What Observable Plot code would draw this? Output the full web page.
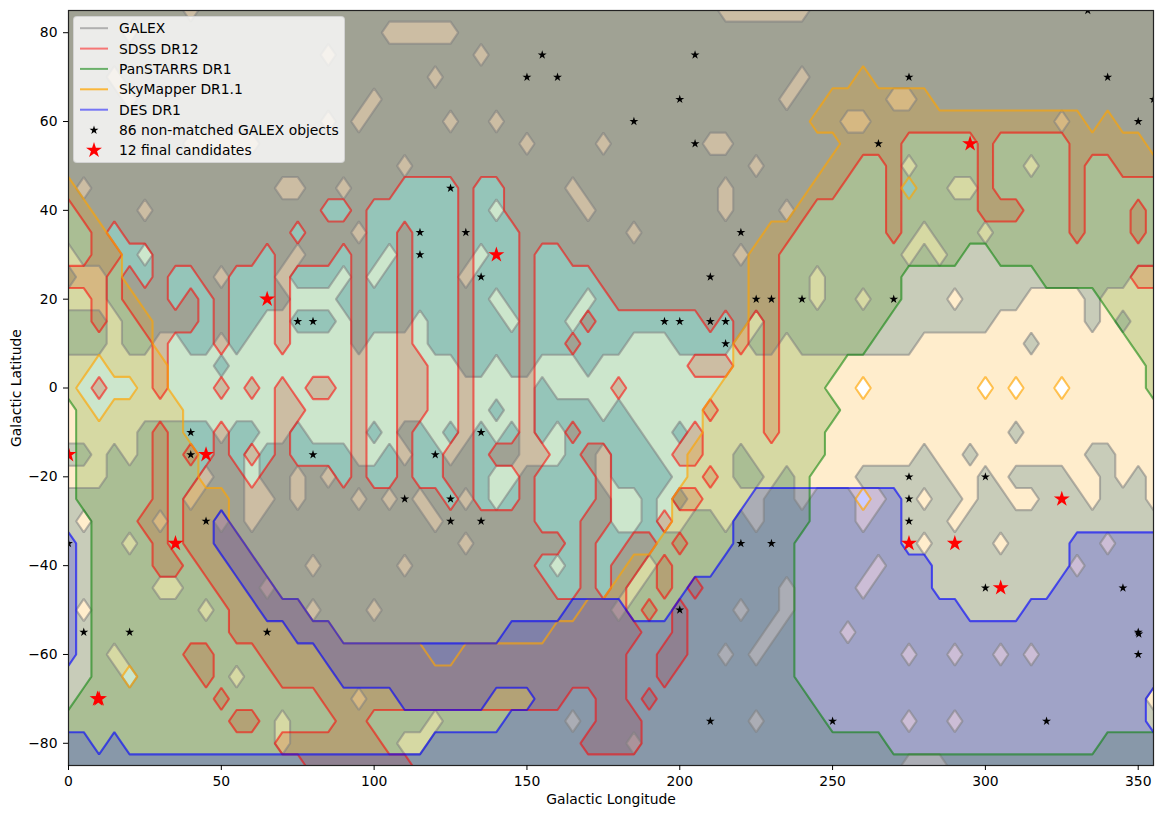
<!DOCTYPE html>
<html>
<head>
<meta charset="utf-8">
<script src="https://cdn.jsdelivr.net/npm/d3@7"></script>
<script src="https://cdn.jsdelivr.net/npm/@observablehq/plot@0.6"></script>
<style>
html,body{margin:0;padding:0;background:#fff;font-family:"DejaVu Sans",sans-serif}
#wrap{position:relative;width:1163px;height:817px;overflow:hidden}
#legend{position:absolute;left:73px;top:16px;width:272px;height:147px;box-sizing:border-box;background:rgba(255,255,255,.8);border:1px solid rgba(204,204,204,.8);border-radius:4px;font-size:13.9px;color:#000}
#legend svg{position:absolute;left:0;top:0}
#legend span{position:absolute;left:45px;white-space:nowrap;line-height:16px}
</style>
</head>
<body>
<div id="wrap"><div id="chart"></div><div id="legend"></div></div>
<script>
const galexHoles = {
  85:"40 215-240", 80:"20 105-125", 75:"85 135", 70:"15 120 240", 65:"20 100 235 270-275",
  60:"85 95 125 140 255-260 325", 55:"40-60 150 175 210-215", 50:"110 225 275 315",
  45:"5 70-75 90 165 215 290-295", 40:"25 140 170 215 235", 35:"95 185 280 300",
  30:"0 25 75 105 135 220 275 285", 25:"5-10 50 70 90 100 130 245 350-355",
  20:"0-10 75-85 140 170 245 260 290 315-330 340-355",
  15:"15 65-70 90 115 145 165 225 305-330 340 350-355",
  10:"15 30-35 50 60-90 100-115 185-195 220 235 280-310 320-355",
  5:"0-45 55-125 140 155-165 175-355",
  0:"0-150 160-355",
  [-5]:"0-135 145-150 175 185-355",
  [-10]:"0-20 50 65-70 80-95 105 120 130 140 150 160 190-195 205-305 315-355",
  [-15]:"10 20 60 95-100 110 125 150-160 175 195-215 225-275 285-290 300-330 345-355",
  [-20]:"0-10 45 60 75 85 140-145 175 200-215 230 240-255 290-295 305 330-335 345 355",
  [-25]:"40 60-65 75 95 105 115 130 140 180-185 195 205-225 240 260-265 280 295 310-315 335 355",
  [-30]:"5 30 50 60 120 180-185 195-200 215 225 260 290",
  [-35]:"20 130 280 305 340", [-40]:"80 110 160 190 265 330",
  [-45]:"30-35 65 185 235 260", [-50]:"5 45 80 100 180 220 235",
  [-55]:"230 255", [-60]:"15 215 225 275 290 305 315", [-65]:"20 55", [-70]:"95 355",
  [-75]:"70 120 165 225 275 290", [-80]:"70 110-115 185", [-85]:"275-285"
};
const sdssRuns = {
  85:"0-355", 80:"0-355", 75:"0-355", 70:"0-355", 65:"0-355", 60:"0-355",
  55:"0-270 300 330-355", 50:"0-255 270 300 330 345-355", 45:"0-105 130 145-250 270 300 330",
  40:"5-80 95 130 145-240 270 300-310 330 350", 35:"10 20-70 80-95 110 130 150-235 270 330 350",
  30:"10-15 30-60 70-85 95 110 130 150 165-230", 25:"0-10 20 30 45-50 70 95 110 130 150 175-230 350-355",
  20:"10 20-30 40 50 70 95 110 130 150 180-230", 15:"10 25-40 50 70 95 110 130 150 170 210 220 230",
  10:"30 50 70 95 110 130 150 165 220 230", 5:"30 95 110-115 130 150 205-215 230",
  0:"10 30 50 60 70 80-85 95 110-115 130 150 180 230", [-5]:"70-75 95 110-115 130 150 210 230",
  [-10]:"30 50 70 95 110 130 150 165 205 230",
  [-15]:"30 40 50 60 70 95 110 125-130 140-155 170-175 200-205",
  [-20]:"30 45-55 65-85 95 110 125-130 150 175 210", [-25]:"30 40-120 130 150 175 200-205",
  [-30]:"25-30 40-150 170-175 195", [-35]:"30 40-160 170 185-190 200",
  [-40]:"30-35 45-150 170 180-185 195", [-45]:"50-155 170 180 195 205",
  [-50]:"55-180 190 200", [-55]:"55-185 200", [-60]:"40-45 65-180 195-200",
  [-65]:"45 70-180 195", [-70]:"50 85-160 175-180 190", [-75]:"55-60 90-95 175-185",
  [-80]:"70-100 170-185", [-85]:"80-110"
};
const panstarrsRuns = {
  85:"0-355", 80:"0-355", 75:"0-355", 70:"0-355", 65:"0-355", 60:"0-355", 55:"0-355", 50:"0-355",
  45:"0-355", 40:"0-355", 35:"0-355", 30:"0-290 305-355", 25:"0-270 320-355", 20:"0-270 340-355",
  15:"0-265 345-355", 10:"0-260 350-355", 5:"0-250 355", 0:"0-245 355", [-5]:"5-250", [-10]:"5-245",
  [-15]:"5-245", [-20]:"5-240", [-25]:"5-240", [-30]:"10-240", [-35]:"10-235", [-40]:"10-235",
  [-45]:"10-235", [-50]:"10-235", [-55]:"10-235", [-60]:"10-235", [-65]:"10-235", [-70]:"5-240",
  [-75]:"0-245", [-80]:"0-265 340-355", [-85]:"0-355"
};
const skymapperRuns = {
  70:"260", 65:"250-280", 60:"245-330 340", 55:"255-350", 50:"250-355", 45:"0 245-270 280-355",
  40:"0-5 240-355", 35:"0-10 230-355", 30:"0-15 225-355", 25:"0-15 225-355", 20:"0-20 225-355",
  15:"0-25 225-355", 10:"0-25 220-355", 5:"0-5 15-30 220-355",
  0:"0 25-30 215-255 265-295 305 315-320 330-355", [-5]:"0-5 15-35 210-355", [-10]:"0-35 210-355",
  [-15]:"0-40 205-355", [-20]:"0-40 205-355", [-25]:"0-50 200-255 265-355", [-30]:"0-50 200-355",
  [-35]:"0-55 195-355", [-40]:"0-60 185-355", [-45]:"0-65 180-355", [-50]:"0-75 170-355",
  [-55]:"0-85 160-355", [-60]:"0-115 130-355", [-65]:"0-15 25-355", [-70]:"0-355", [-75]:"0-355",
  [-80]:"0-355", [-85]:"0-355"
};
const desRuns = {
  [-25]:"225-270", [-30]:"50 220-270", [-35]:"0 50-55 220-270 330-355", [-40]:"0 55-60 215-280 330-355",
  [-45]:"0 60-65 205-280 325-355", [-50]:"0 65-75 165-180 200-290 315-355",
  [-55]:"0 75-85 145-355", [-60]:"0 85-355", [-65]:"90-355", [-70]:"110-135 155-350",
  [-75]:"145-350", [-80]:"0-5 15 120-355", [-85]:"0-355"
};
const blackStarLon = [333.5,155,205,150,160,275,340,200,355,185,350,205,265,125,115,130,220,115,135,210,225,230,240,270,75,80,195,200,210,215,215,40,135,40,80,120,275,300,110,125,275,45,125,135,275,0,220,230,300,345,200,5,20,65,350,350.2,350,210,250,320];
const blackStarLat = [85,75,75,70,70,70,70,65,65,60,60,55,55,45,35,35,35,30,25,25,20,20,20,20,15,15,15,15,15,15,10,-10,-10,-15,-15,-15,-20,-20,-25,-25,-25,-30,-30,-30,-30,-35,-35,-35,-45,-45,-50,-55,-55,-55,-55,-55.4,-60,-75,-75,-75];
const redStarLon = [65,140,295,0,45,35,275,290,325,305,10,9.5];
const redStarLat = [20,30,55,-15,-15,-35,-35,-35,-25,-45,-70,-70];
const xTicks = [0,50,100,150,200,250,300,350];
const yTicks = [-80,-60,-40,-20,0,20,40,60,80];
const legendNames = ["GALEX","SDSS DR12","PanSTARRS DR1","SkyMapper DR1.1","DES DR1","86 non-matched GALEX objects","12 final candidates"];

const lons = d3.range(0,360,5);
const lats = d3.range(-85,90,5);
function parseRuns(s){
  const on = new Set();
  (s||"").split(" ").filter(Boolean).forEach(r=>{
    const p = r.split("-").map(Number);
    for(let l=p[0]; l<=(p.length>1?p[1]:p[0]); l+=5) on.add(l);
  });
  return on;
}
function grid(rows, invert){
  const v = [];
  for(const lat of lats){
    const on = parseRuns(rows[lat]);
    for(const lon of lons) v.push((on.has(lon) !== !!invert) ? 1 : 0);
  }
  return v;
}
const contourBase = {value: Plot.identity, width: lons.length, height: lats.length,
    x1: -2.5, x2: 357.5, y1: -87.5, y2: 87.5, thresholds: [0.5], clip: true};
const fillLayer = (values, fill, fillOpacity=0.2) => Plot.contour(values, {...contourBase, fill, fillOpacity, stroke:"none"});
const lineLayer = (values, stroke, strokeOpacity=0.55) => Plot.contour(values, {...contourBase, fill:"none", stroke, strokeOpacity, strokeWidth:2.1});
const galex = grid(galexHoles,true), sdss = grid(sdssRuns), pan = grid(panstarrsRuns), sky = grid(skymapperRuns), des = grid(desRuns);
const minus = d => String(d).replace("-","\u2212");
const chart = Plot.plot({
  width: 1163, height: 817, marginLeft: 68, marginRight: 10, marginTop: 10, marginBottom: 52,
  style: {fontFamily: '"DejaVu Sans",sans-serif', fontSize: "13.9px", background: "#fff", color:"#000"},
  x: {domain: [0,355]}, y: {domain: [-85,85]},
  marks: [
    fillLayer(galex,"#1f77b4",0.3), fillLayer(sdss,"red"), fillLayer(pan,"green"), fillLayer(sky,"orange"), fillLayer(des,"blue"),
    lineLayer(galex,"gray"), lineLayer(sdss,"red"), lineLayer(pan,"green"), lineLayer(sky,"orange",0.65), lineLayer(des,"blue",0.62),
    Plot.dot(blackStarLon.map((d,i)=>i), {x:i=>blackStarLon[i], y:i=>blackStarLat[i], symbol:"star", r:2.8, fill:"black", stroke:"none", clip:true}),
    Plot.dot(redStarLon.map((d,i)=>i), {x:i=>redStarLon[i], y:i=>redStarLat[i], symbol:"star", r:5, fill:"red", stroke:"none", clip:true}),
    Plot.frame({stroke:"#222", strokeWidth:1.2}),
    Plot.axisX({ticks:xTicks, tickFormat:minus, tickSize:5, tickPadding:6, label:"Galactic Longitude", labelAnchor:"center", labelArrow:"none", labelOffset:38}),
    Plot.axisY({ticks:yTicks, tickFormat:minus, tickSize:5, tickPadding:6, label:"Galactic Latitude", labelAnchor:"center", labelArrow:"none", labelOffset:57})
  ]
});
document.getElementById("chart").appendChild(chart);

// legend
const lg = document.getElementById("legend");
const rowY = [11.2,31.6,51.9,72.3,92.7,113.1,133.3];
const lineCols = ["rgba(128,128,128,.55)","rgba(255,0,0,.5)","rgba(0,128,0,.55)","rgba(255,165,0,.75)","rgba(0,0,255,.5)"];
const sv = d3.create("svg").attr("width",270).attr("height",145);
lineCols.forEach((c,i)=>sv.append("line").attr("x1",6).attr("x2",34).attr("y1",rowY[i]).attr("y2",rowY[i]).attr("stroke",c).attr("stroke-width",2));
sv.append("path").attr("d",d3.symbol(d3.symbolStar,2.8*2.8*Math.PI)()).attr("fill","black").attr("transform",`translate(20,${rowY[5]})`);
sv.append("path").attr("d",d3.symbol(d3.symbolStar,5*5*Math.PI)()).attr("fill","red").attr("transform",`translate(20,${rowY[6]})`);
lg.appendChild(sv.node());
legendNames.forEach((t,i)=>{
  const s = document.createElement("span");
  s.textContent = t; s.style.top = (rowY[i]-8)+"px";
  lg.appendChild(s);
});
</script>
</body>
</html>
